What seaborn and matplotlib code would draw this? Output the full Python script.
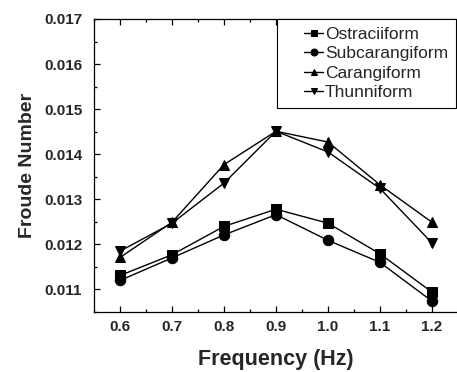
import numpy as np
import pandas as pd
import matplotlib
matplotlib.use("Agg")
import matplotlib.pyplot as plt
import seaborn as sns
from matplotlib.lines import Line2D
from matplotlib.legend_handler import HandlerLine2D
from matplotlib.ticker import MultipleLocator

frequency = [0.6, 0.7, 0.8, 0.9, 1.0, 1.1, 1.2]
ostraciiform = [0.01131, 0.01177, 0.01240, 0.01278, 0.01247, 0.01179, 0.01094]
subcarangiform = [0.01120, 0.01170, 0.01221, 0.01266, 0.01209, 0.01160, 0.01074]
carangiform = [0.01171, 0.01249, 0.01377, 0.01451, 0.01427, 0.01332, 0.01249]
thunniform = [0.01185, 0.01247, 0.01336, 0.01451, 0.01405, 0.01324, 0.01203]
series_names = ["Ostraciiform", "Subcarangiform", "Carangiform", "Thunniform"]
x_ticks = [0.6, 0.7, 0.8, 0.9, 1.0, 1.1, 1.2]
y_ticks = [0.011, 0.012, 0.013, 0.014, 0.015, 0.016, 0.017]

frames = []
for name, vals in zip(series_names, [ostraciiform, subcarangiform, carangiform, thunniform]):
    frames.append(pd.DataFrame({"Frequency": frequency, "Froude": vals, "Type": name}))
df = pd.concat(frames, ignore_index=True)

sns.set_style("ticks")
plt.rcParams["font.family"] = ["Liberation Sans", "DejaVu Sans"]

fig = plt.figure(figsize=(4.57, 3.72), dpi=100)
ax = fig.add_axes([94 / 457, 1 - 312 / 372, (458 - 94) / 457, (312 - 19) / 372])

sns.lineplot(
    data=df, x="Frequency", y="Froude", hue="Type", style="Type",
    hue_order=series_names, style_order=series_names,
    palette=["black"] * 4,
    markers={"Ostraciiform": "s", "Subcarangiform": "o", "Carangiform": "^", "Thunniform": "v"},
    dashes=False, linewidth=1.0, markersize=7.5, markeredgecolor="black",
    ax=ax, legend=True,
)

ax.set_xlim(0.55, 1.25)
ax.set_ylim(0.0105, 0.017)
ax.set_xticks(x_ticks)
ax.set_yticks(y_ticks)
ax.set_xticklabels([f"{v:.1f}" for v in x_ticks])
ax.set_yticklabels([f"{v:.3f}" for v in y_ticks])
ax.xaxis.set_minor_locator(MultipleLocator(0.05))
ax.yaxis.set_minor_locator(MultipleLocator(0.0005))
ax.tick_params(which="both", direction="in", top=True, right=False, width=0.9, color="black")
ax.tick_params(which="major", length=4.5)
ax.tick_params(which="minor", length=2.5)
ax.tick_params(axis="y", which="major", pad=8.5)
ax.tick_params(axis="x", which="major", pad=5.5)
for lab in ax.get_xticklabels() + ax.get_yticklabels():
    lab.set_fontweight("bold")
    lab.set_fontsize(11)
for sp in ax.spines.values():
    sp.set_linewidth(0.9)
    sp.set_color("black")

ax.set_xlabel("Frequency (Hz)", fontsize=15.5, fontweight="bold", labelpad=11)
ax.set_ylabel("Froude Number", fontsize=14, fontweight="bold", labelpad=6)


class ShiftedHandler(HandlerLine2D):
    def __init__(self, shift, **kw):
        super().__init__(**kw)
        self.shift = shift

    def create_artists(self, legend, orig_handle, xdescent, ydescent, width, height, fontsize, trans):
        return super().create_artists(legend, orig_handle, xdescent - self.shift, ydescent,
                                      width - self.shift, height, fontsize, trans)


handles, labels = ax.get_legend_handles_labels()
ax.get_legend().remove()
leg = fig.legend(
    handles, labels, loc="upper right", bbox_to_anchor=(456 / 457, 1 - 19 / 372),
    fontsize=12.5, frameon=True, fancybox=False, edgecolor="black", framealpha=1,
    borderpad=0.45, labelspacing=0.25, handlelength=2.2, handletextpad=0.1,
    borderaxespad=0, handler_map={Line2D: ShiftedHandler(13.8)},
)
leg.get_frame().set_linewidth(0.8)
for h in leg.legend_handles:
    h.set_markersize(5)

fig.savefig("out.png", dpi=100)
